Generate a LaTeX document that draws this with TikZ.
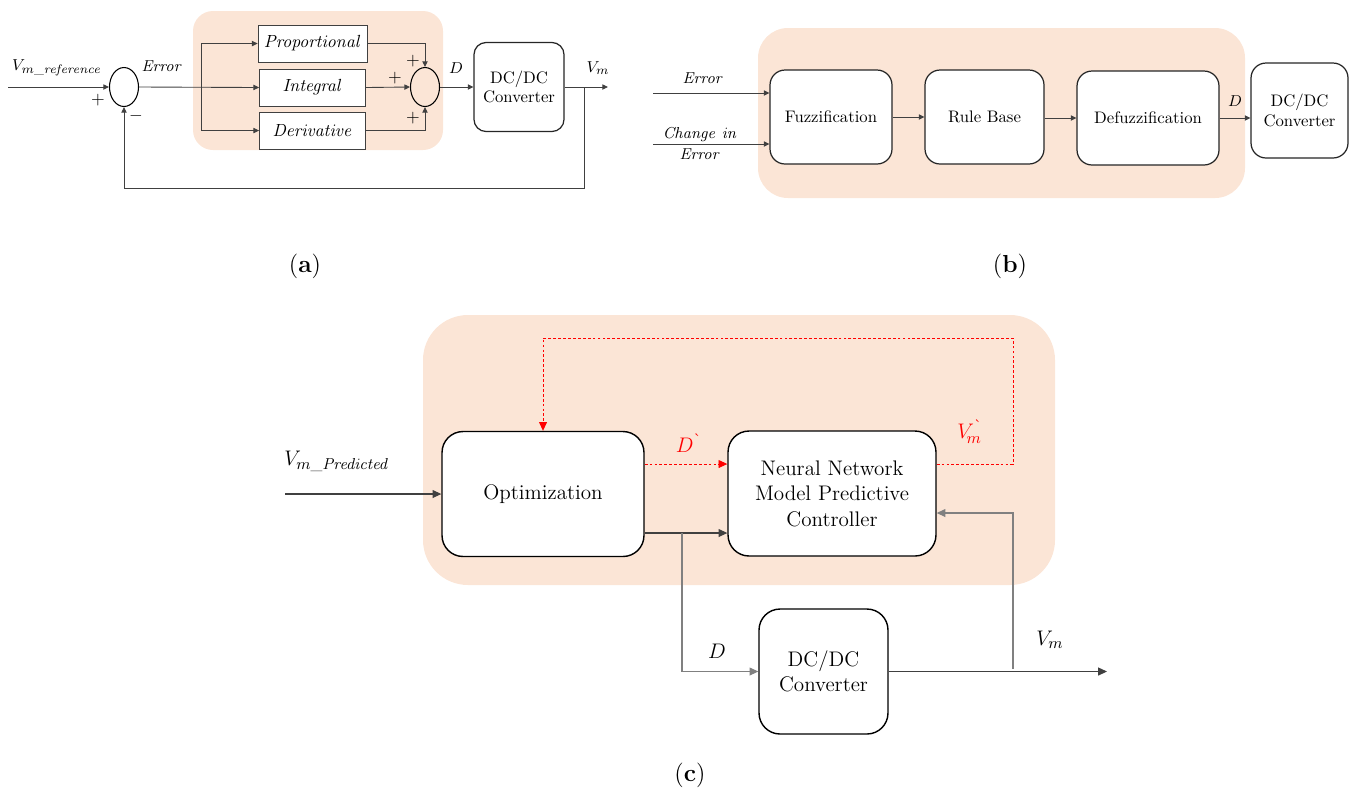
\documentclass[tikz,border=0pt]{standalone}
\usepackage{amsmath}
\usepackage{tikz}
\usetikzlibrary{arrows.meta,positioning,shapes}

\definecolor{peach}{RGB}{251,229,214}
\definecolor{wire}{RGB}{64,64,64}
\definecolor{fbwire}{RGB}{128,128,128}

\newcommand{\usc}{\text{\_}}
\newcommand{\grv}{\text{\`{}}}

\tikzset{
  arrA/.style={draw=wire, line width=0.5pt, -{Triangle[length=3.2pt,width=3pt]}},
  arrC/.style={draw=wire, line width=0.6pt, -{Triangle[length=5pt,width=4.5pt]}},
  redarr/.style={draw=red, line width=0.5pt, dash pattern=on 1.6pt off 1.2pt, -{Triangle[length=5pt,width=4.5pt]}},
  pidbox/.style={draw=wire, fill=white, line width=0.5pt, minimum width=2.12cm, minimum height=0.74cm, font=\fontsize{10}{12}\selectfont},
  sumnode/.style={draw=black, ellipse, line width=0.6pt, minimum width=0.58cm, minimum height=0.78cm, inner sep=0pt},
  blockA/.style={draw=black!85, fill=white, rounded corners=0.24cm, line width=0.7pt, align=center, font=\fontsize{9.5}{11}\selectfont},
  blockB/.style={draw=black!85, fill=white, rounded corners=0.3cm, line width=0.7pt, align=center, minimum height=1.88cm, font=\fontsize{9.5}{11}\selectfont},
  blockC/.style={draw=black, fill=white, rounded corners=0.42cm, line width=0.8pt, align=center, minimum height=2.5cm, font=\fontsize{12}{14.5}\selectfont},
  lblA/.style={font=\fontsize{9.5}{11}\selectfont},
  lblC/.style={font=\fontsize{12.5}{15}\selectfont},
  caplbl/.style={font=\fontsize{14}{16}\selectfont}
}

\begin{document}
\begin{tikzpicture}[x=0.02cm, y=-0.02cm]
\path[use as bounding box] (0,0) rectangle (1354,796);

% (a) PID
\fill[peach, rounded corners=0.4cm] (193,11) rectangle (443,150);

\node[sumnode] (s1) at (124,87) {};
\node[pidbox] (pbox) at (312.5,43.5) {$\mathit{Proportional}$};
\node[pidbox] (ibox) at (312.5,87.5) {$\mathit{Integral}$};
\node[pidbox] (dbox) at (312.5,130.5) {$\mathit{Derivative}$};
\node[sumnode] (s2) at (425,87) {};
\node[blockA, minimum width=1.8cm, minimum height=1.78cm] (conv1) at (519,87) {DC/DC\\Converter};

\coordinate (vin) at (8,87);
\coordinate (br) at (201,87);
\coordinate (vout1) at (608,87);
\coordinate (tap1) at (584,87);
\coordinate (fb1) at (584,188);

\draw[arrA] (vin) -- (s1.west);
\draw[arrA] (s1.east) -- (ibox.west);
\draw[arrA] (br) |- (pbox.west);
\draw[arrA] (br) |- (dbox.west);
\draw[arrA] (pbox.east) -| (s2.north);
\draw[arrA] (ibox.east) -- (s2.west);
\draw[arrA] (dbox.east) -| (s2.south);
\draw[arrA] (s2.east) -- (conv1.west);
\draw[arrA] (conv1.east) -- (vout1);
\draw[arrA] (tap1) -- (fb1) -| (s1.south);

\node[lblA] (vref) at (57,68) {$V_{m\usc\mathit{reference}}$};
\node[lblA] (errA) at (162,66) {$\mathit{Error}$};
\node (p1) at (98,100) {$+$};
\node (m1) at (136,116) {$-$};
\node (p2) at (413,61) {$+$};
\node (p3) at (395,78) {$+$};
\node (p4) at (413,118) {$+$};
\node[lblA] (dA) at (456,68) {$D$};
\node[lblA] (vmA) at (598,68) {$V_m$};
\node[caplbl] (capa) at (305,266) {(\textbf{a})};

% (b) fuzzy
\fill[peach, rounded corners=0.6cm] (758,28) rectangle (1245,198);

\node[blockB, minimum width=2.44cm] (fuzz) at (831,117) {Fuzzification};
\node[blockB, minimum width=2.38cm] (rule) at (984.5,117) {Rule Base};
\node[blockB, minimum width=2.84cm] (defz) at (1148,118) {Defuzzification};
\node[blockB, minimum width=1.94cm, minimum height=1.9cm] (conv2) at (1299.5,110.5) {DC/DC\\Converter};

\coordinate (e1) at (653,93);
\coordinate (e2) at (653,144);

\draw[arrA] (e1) -- (e1 -| fuzz.west);
\draw[arrA] (e2) -- (e2 -| fuzz.west);
\draw[arrA] (fuzz) -- (rule);
\draw[arrA] (rule.east |- defz.west) -- (defz.west);
\draw[arrA] (defz.east) -- (defz.east -| conv2.west);

\node[lblA] (errB) at (703,78) {$\mathit{Error}$};
\node[lblA, align=center] (chg) at (700,143.5) {$\mathit{Change\ in}$\\[1pt]$\mathit{Error}$};
\node[lblA] (dB) at (1235,101) {$D$};
\node[caplbl] (capb) at (1010,266) {(\textbf{b})};

% (c) NN-MPC
\fill[peach, rounded corners=0.9cm] (423,315) rectangle (1055,585);

\node[blockC, minimum width=4.04cm] (opt) at (543,494) {Optimization};
\node[blockC, minimum width=4.16cm] (nn) at (832,493.5) {Neural Network\\Model Predictive\\Controller};
\node[blockC, minimum width=2.58cm] (conv3) at (823.5,671.5) {DC/DC\\Converter};

\coordinate (redlvl) at (0,464);
\coordinate (blklvl) at (0,533);
\coordinate (fblvl) at (0,513);
\coordinate (vp) at (285,494);
\coordinate (rc1) at (1013,338);
\coordinate (brc) at (682,533);
\coordinate (tap3) at (1013,669);
\coordinate (vout3) at (1107,671.5);

\draw[arrC] (vp) -- (opt.west);
\draw[redarr] (opt.east |- redlvl) -- (nn.west |- redlvl);
\draw[redarr] (nn.east |- redlvl) -| (rc1) -| (opt.north);
\draw[arrC] (opt.east |- blklvl) -- (nn.west |- blklvl);
\draw[arrC, draw=fbwire] (brc) |- (conv3.west);
\draw[arrC] (conv3.east) -- (vout3);
\draw[arrC, draw=fbwire] (tap3) |- (nn.east |- fblvl);

\node[lblC] (vpred) at (337,461) {$V_{m\usc\mathit{Predicted}}$};
\node[lblC, text=red] (dprime) at (689,443) {$D^{\grv}$};
\node[lblC, text=red] (vprime) at (970,432) {$V^{\grv}_{\!m}$};
\node[lblC] (dC) at (717,651) {$D$};
\node[lblC] (vmC) at (1050,640) {$V_m$};
\node[caplbl] (capc) at (690,775) {(\textbf{c})};
\end{tikzpicture}
\end{document}
